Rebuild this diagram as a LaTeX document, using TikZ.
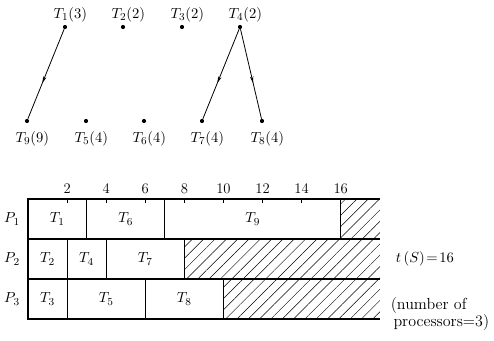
\documentclass[tikz,border=0pt]{standalone}
\usepackage{amsmath,amssymb}
\usepackage{tikz}
\usetikzlibrary{arrows.meta,decorations.markings,patterns.meta}

\begin{document}
\begin{tikzpicture}[x=0.75pt,y=-0.75pt,
    every node/.style={font=\fontsize{11}{13}\selectfont},
    dot/.style={circle,fill,inner sep=1.1pt},
    toplbl/.style={xshift=4pt,inner sep=1pt,label distance=0.5pt},
    botlbl/.style={xshift=4pt,inner sep=1pt},
    midarrow/.style={decoration={markings,
        mark=at position 0.6 with {\arrow{Stealth[length=5pt,width=2.6pt]}}},
        postaction={decorate}},
    task/.style={line width=0.8pt},
    hatch/.style={pattern={Lines[angle=45,distance=6pt,line width=0.35pt]}}]
  % page frame of the reference
  \useasboundingbox (0,0) rectangle (494,341);
  % task graph: dots with (task time)
  \foreach \n/\x/\w in {1/65/3,2/123/2,3/182/2,4/240/2}
    \node[dot,label={[toplbl]above:$T_{\n}(\w)$}] (t\n) at (\x,27) {};
  \foreach \n/\x/\w in {9/27/9,5/86/4,6/144/4,7/202/4,8/262/4}
    \node[dot,label={[botlbl,label distance=5pt]below:$T_{\n}(\w)$}] (t\n) at (\x,121) {};
  \draw[semithick,midarrow] (t1) -- (t9);
  \draw[semithick,midarrow] (t4) -- (t7);
  \draw[semithick,midarrow] (t4) -- (t8);
  % schedule, one time unit = 19.55px
  \begin{scope}[xshift=21pt,x=14.66pt]
    \fill[hatch] (16,199) rectangle (18,239);
    \fill[hatch] (8,239) rectangle (18,279);
    \fill[hatch] (10,279) rectangle (18,319);
    \foreach \y in {199,239,279,319}
      \draw[task] (0,\y) -- (18,\y);
    \foreach \y/\a/\b/\t in {199/0/3/1,199/3/7/6,199/7/16/9,
                             239/0/2/2,239/2/4/4,239/4/8/7,
                             279/0/2/3,279/2/6/5,279/6/10/8}{
      \draw[task] (\a,\y) rectangle (\b,\y+40);
      \node (task\t) at ({(\a+\b)/2},\y+20) {$T_{\t}$};
    }
    \foreach \t in {2,4,...,16}{
      \draw (\t,199) -- (\t,203);
      \node (tick\t) at (\t,189) {\t};
    }
  \end{scope}
  \foreach \p/\y in {1/219,2/259,3/299}
    \node (p\p) at (12,\y) {$P_{\p}$};
  \node (tS) at (425,259) {$t\,(S)\!=\!16$};
  \node[align=left,font=\fontsize{12}{9.5}\selectfont] (nproc) at (440,314)
    {(number of\\\,processors=3)};
\end{tikzpicture}
\end{document}
